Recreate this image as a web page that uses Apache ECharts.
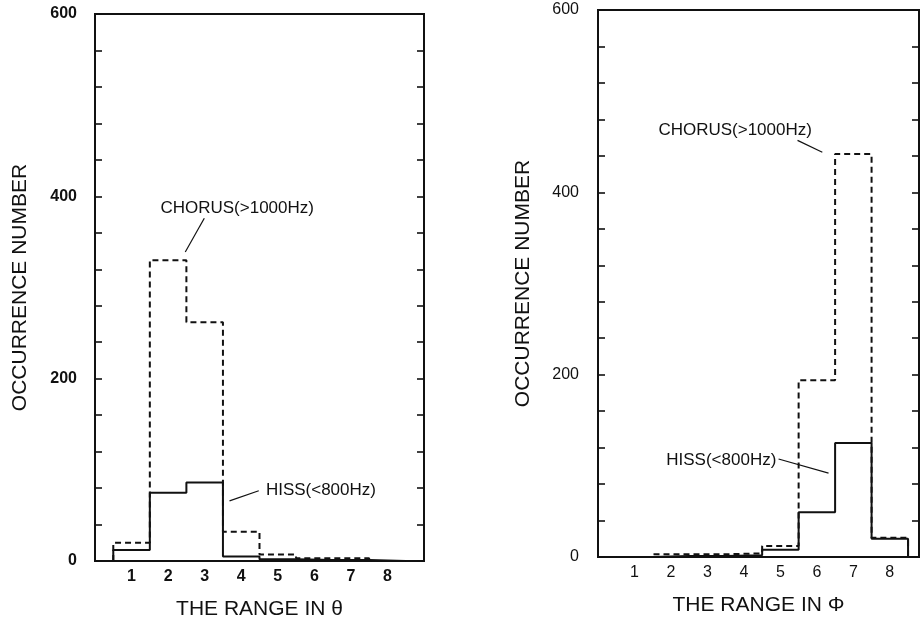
<!DOCTYPE html>
<html>
<head>
<meta charset="utf-8">
<script src="https://cdn.jsdelivr.net/npm/echarts@6/dist/echarts.min.js"></script>
<style>
  html, body { margin: 0; padding: 0; background: #fff; }
  #chart { width: 920px; height: 621px; }
</style>
</head>
<body>
<div id="chart"></div>
<script>
// Range bins on the horizontal axis
const bins = [1, 2, 3, 4, 5, 6, 7, 8];

// Occurrence numbers per bin, range in theta
const thetaChorus = [20, 330, 262, 32, 7, 3, 3, 0];
const thetaHiss = [12, 75, 86, 5, 2, 1, 1, 0];

// Occurrence numbers per bin, range in phi
const phiChorus = [0, 3, 3, 4, 12, 194, 442, 21];
const phiHiss = [0, 1, 1, 2, 8, 49, 125, 20];

// Labelled y values
const yLabels = [0, 200, 400, 600];

const FONT = "'Liberation Sans', Arial, Helvetica, sans-serif";
const INK = '#111';

// Histogram outline: each bin covers [b - 0.5, b + 0.5]
function outline(vals) {
  const pts = [[bins[0] - 0.5, 0]];
  vals.forEach((v, i) => pts.push([bins[i] - 0.5, v]));
  pts.push([bins[bins.length - 1] + 0.5, 0]);
  return pts;
}

function note(text, at) {
  return {
    coord: at, value: text,
    symbol: 'rect', symbolSize: 1,
    itemStyle: { color: 'rgba(0,0,0,0)' },
    label: {
      show: true, position: 'inside', formatter: text,
      color: INK, fontSize: 17, fontFamily: FONT
    }
  };
}

function leader(from, to) {
  return [{ coord: from }, { coord: to }];
}

function xAxisFor(idx, max, title, weight) {
  return {
    type: 'value', gridIndex: idx, min: 0, max: max, interval: 1,
    axisLine: { show: true, lineStyle: { color: INK, width: 2 } },
    axisTick: { show: false },
    splitLine: { show: false },
    axisLabel: {
      color: INK, fontSize: 16, fontFamily: FONT, fontWeight: weight, margin: 8,
      formatter: v => (bins.indexOf(v) >= 0 ? String(v) : '')
    },
    name: title, nameLocation: 'middle', nameGap: 38,
    nameTextStyle: { color: INK, fontSize: 21, fontFamily: FONT }
  };
}

function yAxisFor(idx, side, gap, weight, margin) {
  const left = side === 'left';
  return {
    type: 'value', gridIndex: idx, position: side,
    min: 0, max: 600, interval: 40,
    axisLine: { show: true, onZero: false, lineStyle: { color: INK, width: 2 } },
    axisTick: { show: true, inside: true, length: 7, lineStyle: { color: INK, width: 1.6 } },
    splitLine: { show: false },
    axisLabel: {
      show: left, color: INK, fontSize: 16, fontFamily: FONT, fontWeight: weight, margin: margin,
      formatter: v => (yLabels.indexOf(v) >= 0 ? String(v) : '')
    },
    name: left ? 'OCCURRENCE NUMBER' : '',
    nameLocation: 'middle', nameGap: gap,
    nameTextStyle: { color: INK, fontSize: 21, fontFamily: FONT }
  };
}

function histo(name, vals, idx, dashed, extra) {
  return Object.assign({
    name: name, type: 'line', step: 'end',
    xAxisIndex: idx, yAxisIndex: idx,
    data: outline(vals),
    symbol: 'none', silent: true, animation: false,
    lineStyle: { color: INK, width: 2, type: dashed ? [6, 4] : 'solid' }
  }, extra || {});
}

function notes(points, lines) {
  return {
    markPoint: { silent: true, animation: false, data: points },
    markLine: {
      silent: true, animation: false, symbol: ['none', 'none'],
      label: { show: false },
      lineStyle: { color: INK, width: 1.2, type: 'solid' },
      data: lines
    }
  };
}

const chart = echarts.init(document.getElementById('chart'), null, { renderer: 'canvas' });

chart.setOption({
  backgroundColor: '#fff',
  animation: false,
  grid: [
    { left: 95, top: 14, width: 329, height: 547, outerBoundsMode: 'none', containLabel: false,
      show: true, borderColor: INK, borderWidth: 2, backgroundColor: 'transparent' },
    { left: 598, top: 10, width: 321, height: 547, outerBoundsMode: 'none', containLabel: false,
      show: true, borderColor: INK, borderWidth: 2, backgroundColor: 'transparent' }
  ],
  xAxis: [
    xAxisFor(0, 9, 'THE RANGE IN θ', 'bold'),
    xAxisFor(1, 8.8, 'THE RANGE IN Φ', 'normal')
  ],
  yAxis: [
    yAxisFor(0, 'left', 64, 'bold', 18),
    yAxisFor(1, 'left', 64, 'normal', 19),
    yAxisFor(0, 'right', 0, 'normal', 8),
    yAxisFor(1, 'right', 0, 'normal', 8)
  ],
  series: [
    histo('CHORUS(>1000Hz)', thetaChorus, 0, true,
      notes([note('CHORUS(>1000Hz)', [3.89, 387])], [leader([2.99, 376], [2.47, 339])])),
    histo('HISS(<800Hz)', thetaHiss, 0, false,
      notes([note('HISS(<800Hz)', [6.18, 78])], [leader([4.48, 77], [3.68, 66])])),
    histo('CHORUS(>1000Hz)', phiChorus, 1, true,
      notes([note('CHORUS(>1000Hz)', [3.76, 468])], [leader([5.47, 457], [6.15, 444])])),
    histo('HISS(<800Hz)', phiHiss, 1, false,
      notes([note('HISS(<800Hz)', [3.38, 106])], [leader([4.95, 107.5], [6.32, 92])]))
  ]
});
</script>
</body>
</html>
